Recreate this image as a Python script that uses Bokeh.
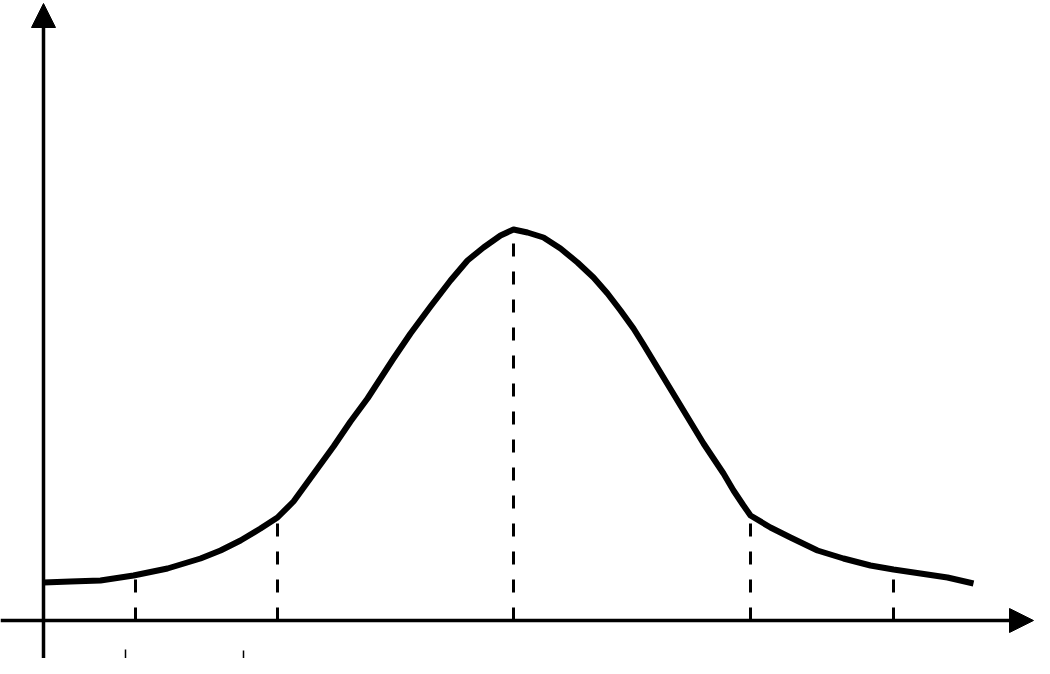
from bokeh.plotting import figure
from bokeh.models import Range1d, Arrow, NormalHead
from bokeh.embed import file_html
from bokeh.resources import INLINE

# Curve: x position, height above the x axis
curve_x = [43, 70, 100, 133, 167, 200, 220, 240, 260, 277, 293, 301, 317, 333,
           350, 367, 380, 393, 410, 430, 450, 467, 483, 500, 513, 527, 543, 560,
           577, 593, 607, 620, 633, 643, 663, 683, 703, 723, 733, 743, 750, 770,
           790, 817, 843, 870, 893, 920, 947, 973]
curve_y = [38, 39, 40, 45, 52, 62, 70, 80, 92, 103, 119, 130, 152, 174,
           199, 222, 242, 262, 287, 314, 340, 360, 373, 385, 391, 388, 383, 372,
           358, 343, 327, 310, 292, 276, 243, 210, 177, 147, 130, 115, 105, 93,
           83, 70, 62, 55, 51, 47, 43, 37]

# Dashed vertical markers: x position and height where they meet the curve
mark_x = [135, 277, 513, 750, 893]
mark_top = [45, 103, 391, 105, 51]

# Small ticks below the axis
tick_x = [125, 243]

p = figure(width=1034, height=658, output_backend="svg", toolbar_location=None,
           x_range=Range1d(0, 1034), y_range=Range1d(-38, 620),
           min_border=0)
p.axis.visible = False
p.grid.visible = False
p.outline_line_color = None
p.background_fill_color = "white"
p.border_fill_color = "white"

# axes with arrowheads
p.add_layout(Arrow(x_start=0, y_start=0, x_end=1033, y_end=0, line_width=3.5,
                   line_color="black",
                   end=NormalHead(size=24, fill_color="black", line_color="black")))
p.add_layout(Arrow(x_start=43, y_start=-60, x_end=43, y_end=617, line_width=3.5,
                   line_color="black",
                   end=NormalHead(size=24, fill_color="black", line_color="black")))

# dashed markers
p.segment(x0=mark_x, y0=[0] * len(mark_x), x1=mark_x, y1=mark_top,
          line_color="black", line_width=3, line_dash="13 15")

# bell curve
p.line(curve_x, curve_y, line_color="black", line_width=6, line_join="round")

# small ticks under the axis
p.segment(x0=tick_x, y0=[-29, -30], x1=tick_x, y1=[-38, -38],
          line_color="black", line_width=1.5)

open("out.html", "w").write(file_html(p, INLINE))
